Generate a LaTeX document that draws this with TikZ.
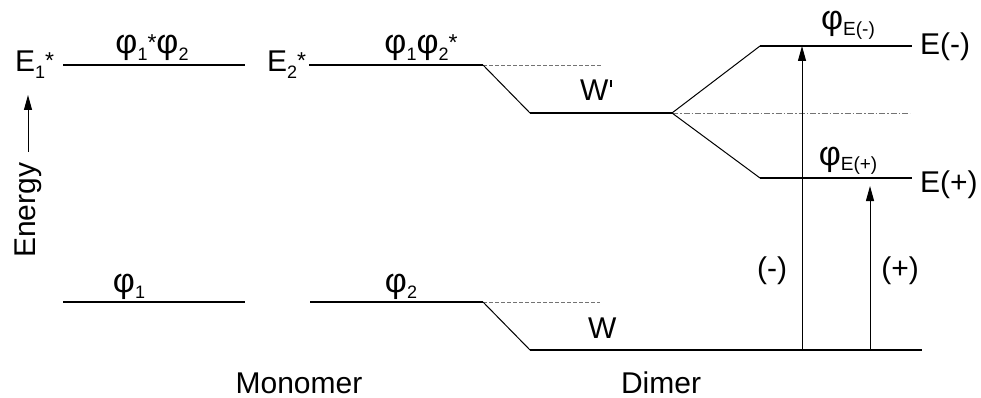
\documentclass[tikz,border=0pt]{standalone}
\usepackage{fontspec}
\setmainfont{Liberation Sans}
\usetikzlibrary{arrows.meta}
% state symbol, lowered indices and raised star used in the labels
\newcommand{\ph}{{\fontsize{34}{36}\selectfont φ}}
\newcommand{\lsub}[1]{\raisebox{-0.22em}{\fontsize{18}{18}\selectfont #1}}
\newcommand{\lsubw}[1]{\raisebox{-0.2em}{\fontsize{19}{19}\selectfont #1}}
\newcommand{\lstar}{\raisebox{0.1em}{\fontsize{23}{23}\selectfont *}}
% straight prime mark
\newcommand{\prm}{\kern0.06em\rule[0.47em]{1.6pt}{0.24em}}
\begin{document}
\begin{tikzpicture}[x=1pt,y=-1pt,
  level/.style={line width=1.3pt},
  link/.style={line width=1pt},
  guide/.style={line width=0.8pt, black!55, dash pattern=on 4pt off 2pt},
  guidedot/.style={line width=0.8pt, black!55, dash pattern=on 6pt off 2pt on 1.5pt off 2pt},
  lbl/.style={inner sep=0pt, anchor=base west, font=\fontsize{30}{36}\selectfont},
  up/.style={-{Triangle[length=15pt,width=8pt]}, line width=1pt}]
\useasboundingbox (0,0) rectangle (981,398);

% level end points
\coordinate (e1a) at (63,65);   \coordinate (e1b) at (245,65);
\coordinate (e2a) at (309,65);  \coordinate (e2b) at (483,65);  \coordinate (e2g) at (602,65);
\coordinate (wpa) at (530,113); \coordinate (wpb) at (672,113); \coordinate (wpg) at (910,113);
\coordinate (ema) at (760,46);  \coordinate (emb) at (912,46);
\coordinate (epa) at (760,178); \coordinate (epb) at (912,178);
\coordinate (g1a) at (63,302);  \coordinate (g1b) at (245,302);
\coordinate (g2a) at (310,302); \coordinate (g2b) at (483,302); \coordinate (g2g) at (600,302);
\coordinate (wa) at (530,350);  \coordinate (wb) at (922,350);
% transition arrows
\coordinate (tm) at (802,350);  \coordinate (tmh) at (802,46);
\coordinate (tp) at (870,350);  \coordinate (tph) at (870,186);
% energy axis
\coordinate (ea) at (28,152);   \coordinate (eb) at (28,95);

% monomer levels
\draw[level] (e1a) -- (e1b);
\draw[level] (g1a) -- (g1b);
\draw[level] (e2a) -- (e2b);
\draw[level] (g2a) -- (g2b);
\draw[guide] (e2b) -- (e2g);
\draw[guide] (g2b) -- (g2g);

% dimer levels
\draw[link] (e2b) -- (wpa);
\draw[level] (wpa) -- (wpb);
\draw[guidedot] (wpb) -- (wpg);
\draw[link] (wpb) -- (ema);
\draw[link] (wpb) -- (epa);
\draw[level] (ema) -- (emb);
\draw[level] (epa) -- (epb);
\draw[link] (g2b) -- (wa);
\draw[level] (wa) -- (wb);

% transitions
\draw[up] (tm) -- (tmh);
\draw[up] (tp) -- (tph);
\draw[up] (ea) -- (eb);

% labels
\node[lbl] (E1) at (15,72) {E\lsub{1}\lstar};
\node[lbl, anchor=base] (p12) at (152,54) {\ph\lsub{1}\lstar\ph\lsub{2}};
\node[lbl] (E2) at (267,72) {E\lsub{2}\lstar};
\node[lbl, anchor=base] (p21) at (421,54) {\ph\lsub{1}\ph\lsub{2}\lstar};
\node[lbl] (Wp) at (580,101) {W\prm};
\node[lbl, anchor=base] (pm) at (848,30) {\ph\lsubw{E(-)}};
\node[lbl] (Em) at (920,55) {E(-)};
\node[lbl, anchor=base] (pp) at (848,165) {\ph\lsubw{E(+)}};
\node[lbl] (Ep) at (920,192) {E(+)};
\node[lbl, anchor=base] (p1) at (129,292) {\ph\lsub{1}};
\node[lbl, anchor=base] (p2) at (401,292) {\ph\lsub{2}};
\node[lbl] (W) at (588,338) {W};
\node[lbl, anchor=center] (lm) at (772,271) {(-)};
\node[lbl, anchor=center] (lp) at (900,271) {(+)};
\node[lbl, anchor=base] (mono) at (299,393) {Monomer};
\node[lbl, anchor=base] (dim) at (661,393) {Dimer};
\node[lbl, rotate=90] (en) at (35,258) {Energy};
\end{tikzpicture}
\end{document}
